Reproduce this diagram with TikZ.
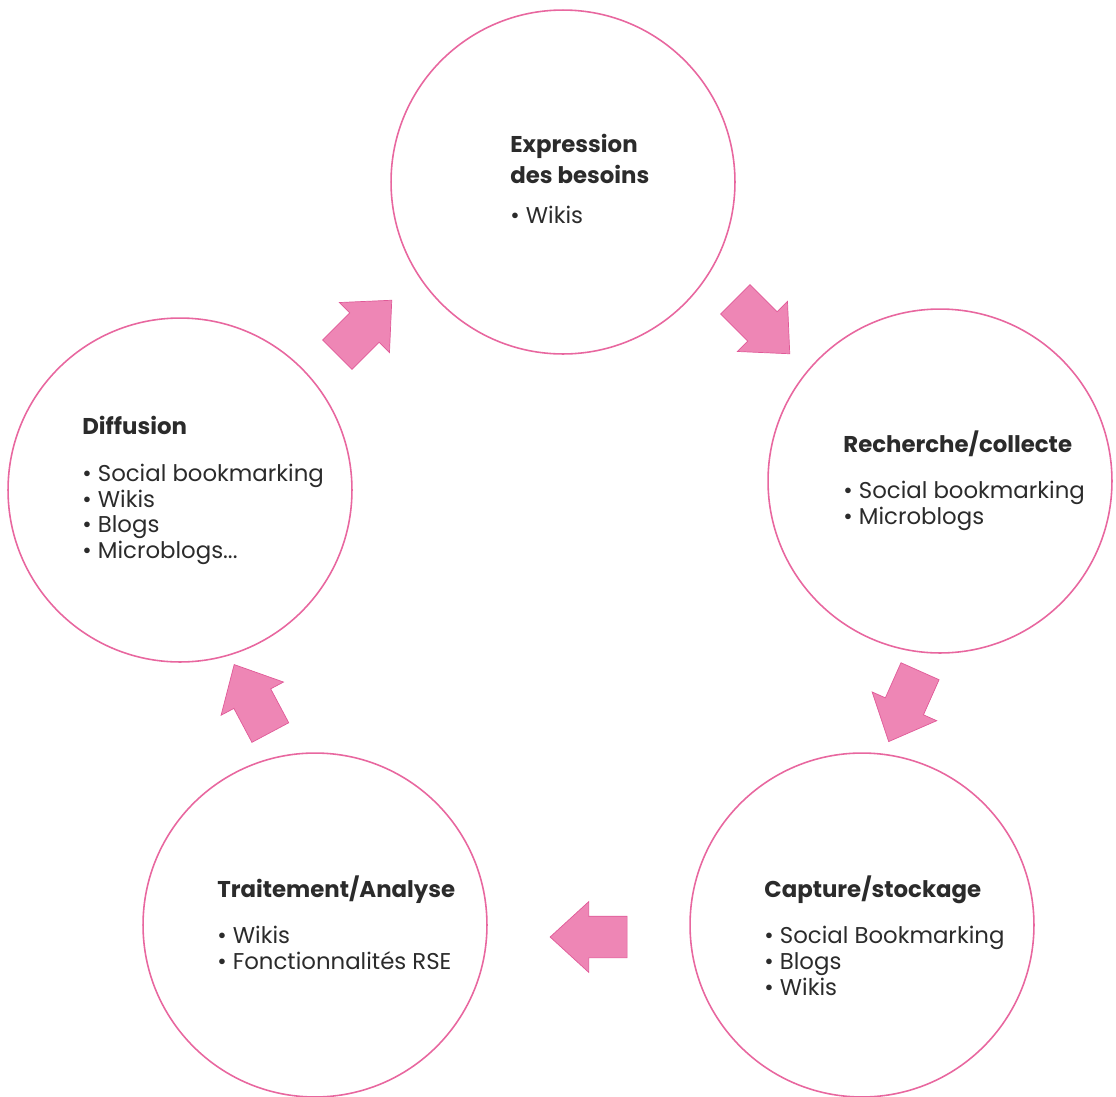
\documentclass[tikz,border=0pt]{standalone}
\usepackage{fontspec}
\setmainfont{Poppins}
\usetikzlibrary{shapes.arrows}
\definecolor{ringpink}{HTML}{E8679F}
\definecolor{arrowpink}{HTML}{EE86B5}
\definecolor{arrowedge}{HTML}{E05A98}
\definecolor{inktext}{HTML}{2B2B2B}

\tikzset{
  stage/.style={circle,draw=ringpink,line width=0.9pt,minimum size=6.88cm,inner sep=0pt},
  stagetext/.style={anchor=north west,align=left,text=inktext,inner sep=0pt,
    font=\fontsize{13}{14.6}\selectfont},
  cyclearrow/.style={single arrow,fill=arrowpink,draw=arrowedge,line width=0.4pt,
    inner xsep=0pt,inner ysep=0.41cm,single arrow head extend=0.29cm,
    single arrow tip angle=85,minimum height=1.54cm}
}

\begin{document}
\begin{tikzpicture}[x=0.02cm,y=-0.02cm]
\useasboundingbox (0,0) rectangle (1116,1096);
\clip (0,0) rectangle (1116,1096);

% the five stages
\node[stage] (besoins) at (563,182) {};
\node[stage] (recherche) at (940,481) {};
\node[stage] (capture) at (862,925) {};
\node[stage] (traitement) at (315,925) {};
\node[stage] (diffusion) at (180,490) {};

% texts
\node[stagetext] (besoins-txt) at (510,134) {\textbf{Expression}\\[3pt]\textbf{des besoins}\\[8pt]• Wikis};
\node[stagetext] (recherche-txt) at (843,430) {\textbf{Recherche/collecte}\\[12pt]• Social bookmarking\\• Microblogs};
\node[stagetext] (capture-txt) at (764,875) {\textbf{Capture/stockage}\\[12pt]• Social Bookmarking\\• Blogs\\• Wikis};
\node[stagetext] (traitement-txt) at (217,875) {\textbf{Traitement/Analyse}\\[12pt]• Wikis\\• Fonctionnalités RSE};
\node[stagetext] (diffusion-txt) at (82,416) {\textbf{Diffusion}\\[12pt]• Social bookmarking\\• Wikis\\• Blogs\\• Microblogs...};

% arrows between stages
\node[cyclearrow,rotate=-45] (a1) at (754.5,318.5) {};
\node[cyclearrow,rotate=-114] (a2) at (909,696) {};
\node[cyclearrow,rotate=180] (a3) at (600,937) {};
\node[cyclearrow,rotate=118] (a4) at (257.6,708.6) {};
\node[cyclearrow,rotate=45] (a5) at (356.5,335.5) {};
\end{tikzpicture}
\end{document}
